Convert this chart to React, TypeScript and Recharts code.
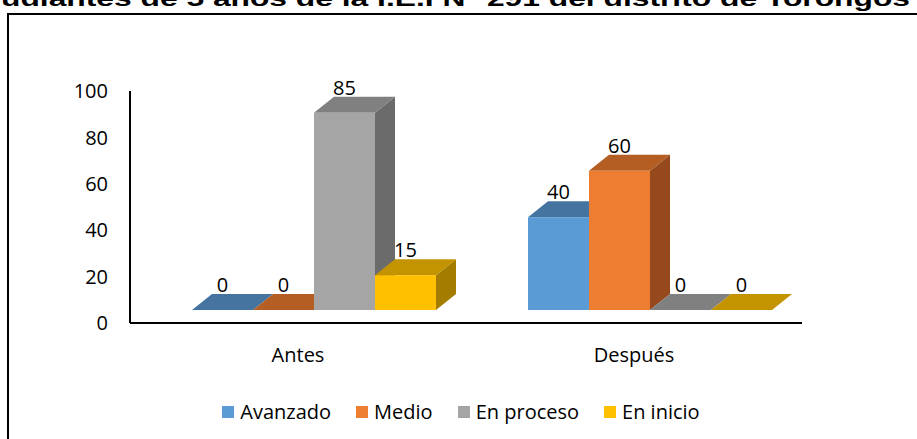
import { Bar, BarChart, LabelList, Legend, XAxis, YAxis } from 'recharts';

const categories = ['Antes', 'Después'];
const avanzado = [0, 40];
const medio = [0, 60];
const enProceso = [85, 0];
const enInicio = [15, 0];
const yTicks = [0, 20, 40, 60, 80, 100];

const series = [
  { key: 'Avanzado', values: avanzado, front: '#5B9BD5', top: '#44749F', side: '#3A6590' },
  { key: 'Medio', values: medio, front: '#ED7D31', top: '#B55E24', side: '#96491C' },
  { key: 'En proceso', values: enProceso, front: '#A5A5A5', top: '#808080', side: '#6B6B6B' },
  { key: 'En inicio', values: enInicio, front: '#FFC000', top: '#C49300', side: '#A37C00' },
];

const data = categories.map((name, i) => {
  const row: Record<string, string | number> = { name };
  series.forEach((s) => (row[s.key] = s.values[i]));
  return row;
});

// fake 3d: front face is pushed off the axis, then a depth offset for top/side
const SHIFT_X = 16;
const SHIFT_Y = -13;
const DX = 20;
const DY = -16;
const FONT = "'Open Sans', 'Liberation Sans', sans-serif";

const make3D = (front: string, top: string, side: string) => (props: any) => {
  const { x, y, width, height } = props;
  const fx = x + SHIFT_X;
  const fy = y + SHIFT_Y;
  const w = width;
  const bottom = fy + height;
  const topPts = `${fx},${fy} ${fx + w},${fy} ${fx + w + DX},${fy + DY} ${fx + DX},${fy + DY}`;
  if (height < 0.5) {
    return <polygon points={topPts} fill={top} />;
  }
  const sidePts = `${fx + w},${fy} ${fx + w + DX},${fy + DY} ${fx + w + DX},${bottom + DY} ${fx + w},${bottom}`;
  return (
    <g>
      <polygon points={sidePts} fill={side} />
      <polygon points={topPts} fill={top} />
      <rect x={fx} y={fy} width={w} height={height} fill={front} />
    </g>
  );
};

const valueLabel = (props: any) => {
  const { x, y, width, value } = props;
  return (
    <text
      x={x + SHIFT_X + width / 2}
      y={y + SHIFT_Y - 18}
      textAnchor="middle"
      fontSize={20}
      fontFamily={FONT}
      fill="#000"
    >
      {value}
    </text>
  );
};

const renderLegend = () => (
  <div
    style={{
      display: 'flex',
      justifyContent: 'center',
      alignItems: 'center',
      gap: 25,
      paddingLeft: 50,
      fontFamily: FONT,
      fontSize: 20,
      color: '#000',
    }}
  >
    {series.map((s) => (
      <div key={s.key} style={{ display: 'flex', alignItems: 'center', gap: 6 }}>
        <span style={{ width: 12, height: 12, background: s.front, display: 'inline-block' }} />
        <span>{s.key}</span>
      </div>
    ))}
  </div>
);

export default function App() {
  return (
    <div style={{ position: 'absolute', left: 0, top: 0, width: 917, height: 439, background: '#fff', overflow: 'hidden' }}>
      <svg width={917} height={20} style={{ position: 'absolute', left: 0, top: 0 }}>
        <text
          x={1}
          y={6}
          fontSize={22}
          fontWeight="bold"
          fontFamily="'Liberation Sans', Arial, sans-serif"
          textLength={909}
          lengthAdjust="spacingAndGlyphs"
          fill="#000"
        >
          udiantes de 5 años de la I.E.I N° 291 del distrito de Torongos
        </text>
      </svg>
      <div
        style={{
          position: 'absolute',
          left: 7,
          top: 13,
          width: 930,
          height: 440,
          borderTop: '2px solid #000',
          borderLeft: '2px solid #000',
        }}
      />
      <div style={{ position: 'absolute', left: 0, top: 0 }}>
        <BarChart
          width={917}
          height={439}
          data={data}
          margin={{ top: 91, right: 115, left: 70, bottom: 11 }}
          barCategoryGap={46}
          barGap={0}
        >
          <XAxis
            dataKey="name"
            axisLine={{ stroke: '#000', strokeWidth: 2 }}
            tickLine={false}
            tickSize={0}
            tickMargin={25}
            height={75}
            tick={{ fontSize: 20, fontFamily: FONT, fill: '#000' }}
          />
          <YAxis
            domain={[0, 100]}
            ticks={yTicks}
            width={60}
            axisLine={{ stroke: '#000', strokeWidth: 2 }}
            tickLine={false}
            tickSize={0}
            tickMargin={22}
            tick={{ fontSize: 20, fontFamily: FONT, fill: '#000' }}
          />
          <Legend verticalAlign="bottom" height={30} content={renderLegend} />
          {series.map((s) => (
            <Bar
              key={s.key}
              dataKey={s.key}
              shape={make3D(s.front, s.top, s.side)}
              isAnimationActive={false}
            >
              <LabelList dataKey={s.key} content={valueLabel} />
            </Bar>
          ))}
        </BarChart>
      </div>
    </div>
  );
}
